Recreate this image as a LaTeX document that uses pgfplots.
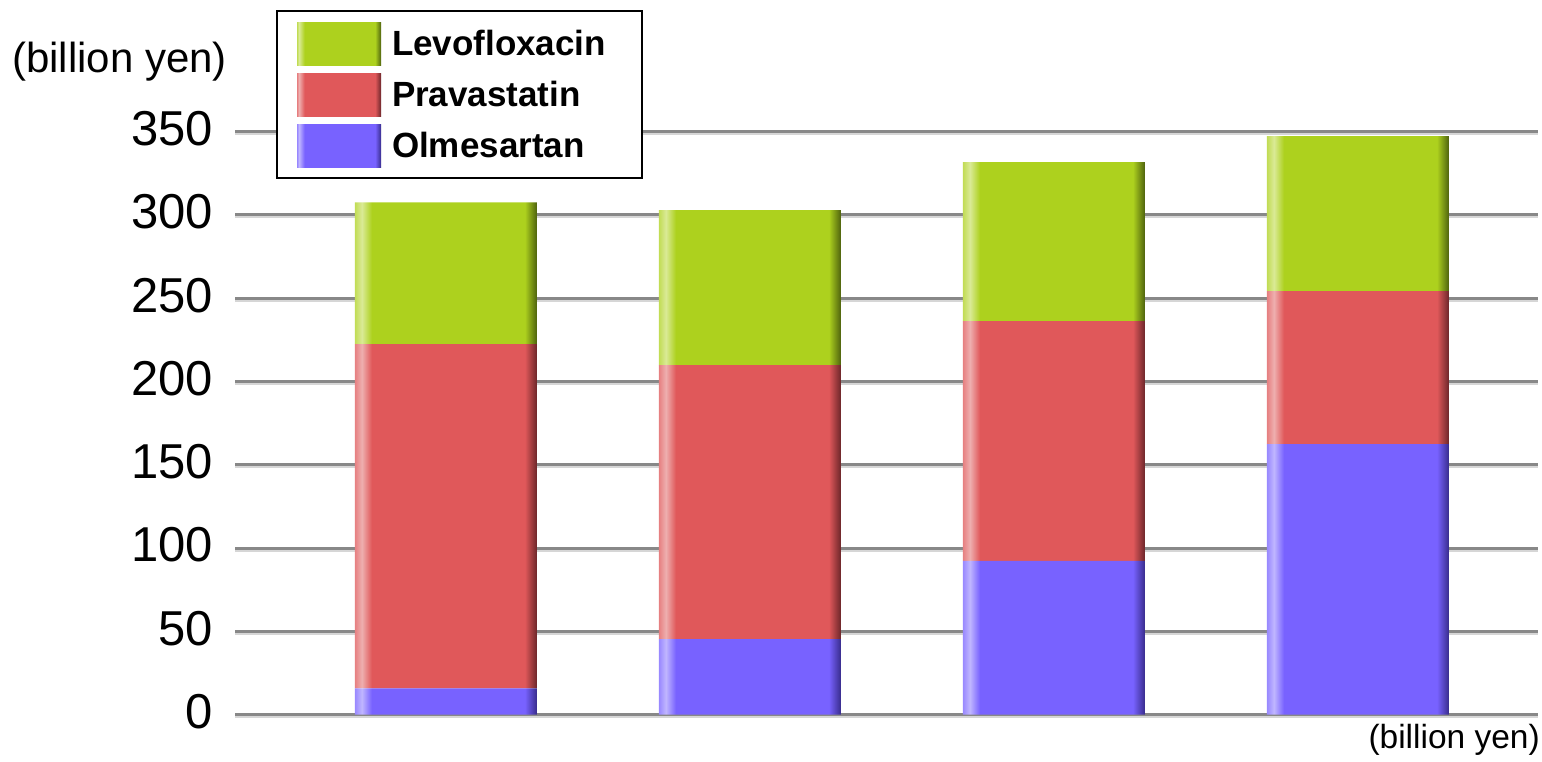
\documentclass[border=0pt]{standalone}
\usepackage{pgfplots}
\pgfplotsset{compat=1.18}
\usepackage{fontspec}
\setmainfont{Liberation Sans}

% bar colours: base, left highlight, right shadow
\definecolor{levoBase}{RGB}{173,209,30}
\definecolor{levoLight}{RGB}{218,234,150}
\definecolor{levoDark}{RGB}{78,98,14}
\definecolor{pravBase}{RGB}{224,88,90}
\definecolor{pravLight}{RGB}{238,175,175}
\definecolor{pravDark}{RGB}{108,38,42}
\definecolor{olmBase}{RGB}{120,98,255}
\definecolor{olmLight}{RGB}{192,182,255}
\definecolor{olmDark}{RGB}{56,44,140}
\colorlet{levoMid}{levoBase!55!levoLight}
\colorlet{pravMid}{pravBase!55!pravLight}
\colorlet{olmMid}{olmBase!55!olmLight}
\definecolor{gridgray}{RGB}{136,136,136}
\definecolor{gridshadow}{RGB}{214,214,214}

% glossy look for a single swatch (legend): bright strip left, dark edge right
\def\swatchstops#1{color(0bp)=(#1Mid); color(25bp)=(#1Mid);
  color(26.2bp)=(#1Light); color(29.5bp)=(#1Base); color(71.5bp)=(#1Base);
  color(75bp)=(#1Dark); color(100bp)=(#1Dark)}
% the same look repeated for the four bars of one series
% (one series is one path, spanning 25bp..75bp across all bars)
\def\barstops#1{color(0bp)=(#1Mid); color(25bp)=(#1Mid);
  color(25.32bp)=(#1Light); color(25.777bp)=(#1Base); color(32.77bp)=(#1Base); color(33.318bp)=(#1Dark);
  color(38.894bp)=(#1Mid); color(39.214bp)=(#1Light); color(39.671bp)=(#1Base); color(46.664bp)=(#1Base); color(47.212bp)=(#1Dark);
  color(52.788bp)=(#1Mid); color(53.108bp)=(#1Light); color(53.565bp)=(#1Base); color(60.558bp)=(#1Base); color(61.106bp)=(#1Dark);
  color(66.682bp)=(#1Mid); color(67.002bp)=(#1Light); color(67.459bp)=(#1Base); color(74.452bp)=(#1Base); color(75bp)=(#1Dark);
  color(100bp)=(#1Dark)}
\edef\tmp{\noexpand\pgfdeclarehorizontalshading{levoSwatch}{100bp}{\swatchstops{levo}}}\tmp
\edef\tmp{\noexpand\pgfdeclarehorizontalshading{pravSwatch}{100bp}{\swatchstops{prav}}}\tmp
\edef\tmp{\noexpand\pgfdeclarehorizontalshading{olmSwatch}{100bp}{\swatchstops{olm}}}\tmp
\edef\tmp{\noexpand\pgfdeclarehorizontalshading{levoBars}{100bp}{\barstops{levo}}}\tmp
\edef\tmp{\noexpand\pgfdeclarehorizontalshading{pravBars}{100bp}{\barstops{prav}}}\tmp
\edef\tmp{\noexpand\pgfdeclarehorizontalshading{olmBars}{100bp}{\barstops{olm}}}\tmp

\begin{document}
\begin{tikzpicture}
\path[use as bounding box] (0,0) rectangle (1542pt,762pt);
\begin{axis}[
  at={(235pt,47.3pt)}, anchor=south west,
  scale only axis, width=1303pt, height=583pt,
  ybar stacked, bar width=182pt,
  xmin=0.3064, xmax=4.5926, ymin=0, ymax=350,
  ytick={0,50,...,350}, xtick=\empty,
  ymajorgrids,
  major grid style={line width=3pt, color=gridgray,
    preaction={draw=gridshadow, line width=2pt, transform canvas={yshift=-2.5pt}}},
  axis line style={draw=none}, major tick length=0pt,
  tick label style={font=\fontsize{49}{49}\selectfont},
  /pgf/number format/assume math mode=true,
  yticklabel style={anchor=east, inner sep=0pt, xshift=-22pt, yshift=3pt},
  reverse legend,
  legend cell align=left,
  legend style={at={(0.0315,1.2087)}, anchor=north west,
    draw=black, line width=2pt, inner xsep=20pt, inner ysep=11pt,
    row sep=8pt, column sep=9pt,
    nodes={inner sep=2pt, font=\fontsize{35}{40}\selectfont\bfseries}},
]
\addplot[draw=none, shade, shading=olmBars,
  legend image code/.code={\shade[shading=olmSwatch] (0pt,-21.5pt) rectangle (84pt,21.5pt);}]
  coordinates {(1,15.8) (2,45.3) (3,92.3) (4,162.5)};
\addlegendentry{Olmesartan}
\addplot[draw=none, shade, shading=pravBars,
  legend image code/.code={\shade[shading=pravSwatch] (0pt,-21.5pt) rectangle (84pt,21.5pt);}]
  coordinates {(1,206.7) (2,164.6) (3,144.0) (4,91.8)};
\addlegendentry{Pravastatin}
\addplot[draw=none, shade, shading=levoBars,
  legend image code/.code={\shade[shading=levoSwatch] (0pt,-21.5pt) rectangle (84pt,21.5pt);}]
  coordinates {(1,85.0) (2,93.0) (3,95.4) (4,93.0)};
\addlegendentry{Levofloxacin\hspace*{14pt}}
\end{axis}
\node[anchor=base west, inner sep=0pt, font=\fontsize{42}{42}\selectfont] at (12pt,689pt) {(billion yen)};
\node[anchor=base east, inner sep=0pt, font=\fontsize{33.5}{33.5}\selectfont] at (1540pt,13pt) {(billion yen)};
\end{tikzpicture}
\end{document}
